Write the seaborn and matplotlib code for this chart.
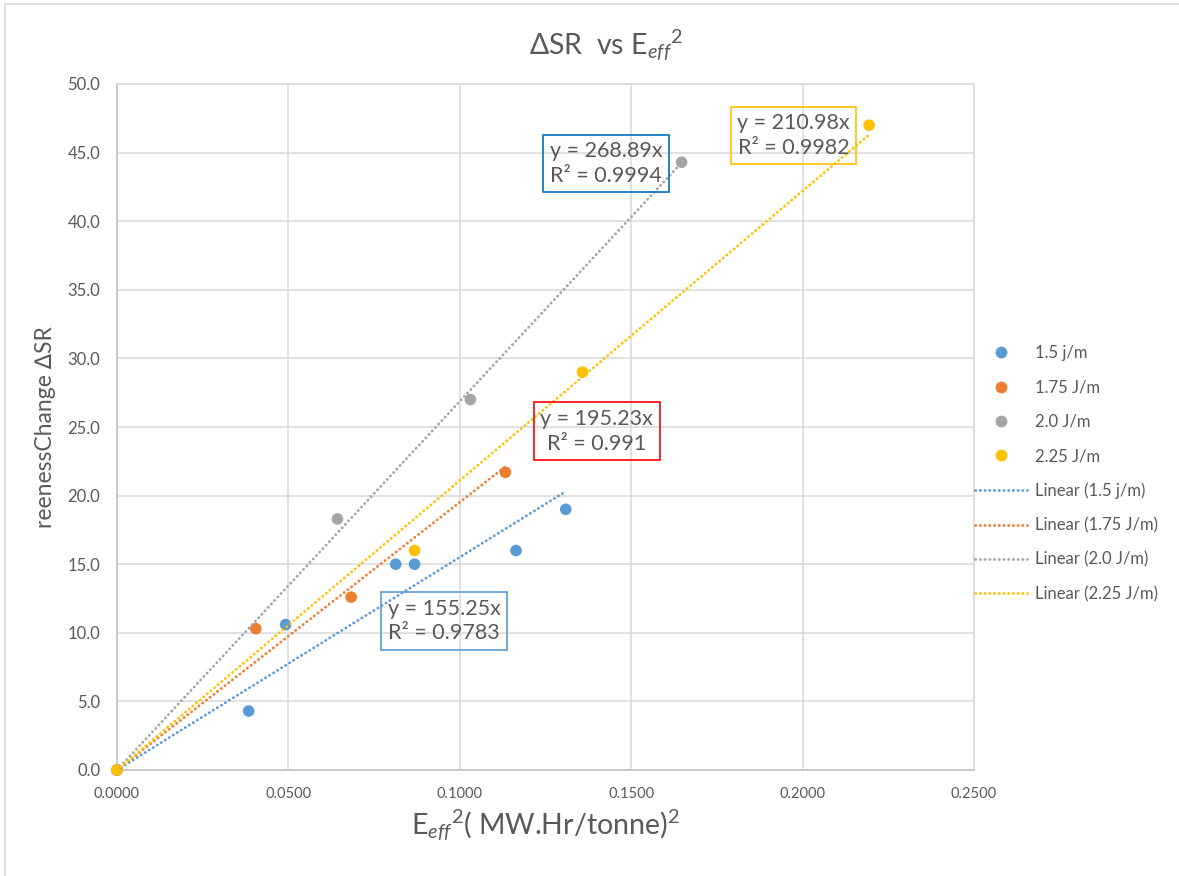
import numpy as np
import pandas as pd
import matplotlib
matplotlib.use("Agg")
import matplotlib.pyplot as plt
from matplotlib.lines import Line2D
import seaborn as sns

# ---- data ----
series_names = ["1.5 j/m", "1.75 J/m", "2.0 J/m", "2.25 J/m"]
blue_x = [0.0, 0.0384, 0.0492, 0.0813, 0.0868, 0.1164, 0.1309]
blue_y = [0.0, 4.3, 10.6, 15.0, 15.0, 16.0, 19.0]
orange_x = [0.0, 0.0405, 0.0683, 0.1133]
orange_y = [0.0, 10.3, 12.6, 21.7]
gray_x = [0.0, 0.0643, 0.1031, 0.1647]
gray_y = [0.0, 18.3, 27.0, 44.3]
yellow_x = [0.0, 0.0868, 0.1358, 0.2194]
yellow_y = [0.0, 16.0, 29.0, 47.0]
eq_texts = ["y = 155.25x\nR\u00b2 = 0.9783", "y = 195.23x\nR\u00b2 = 0.991",
            "y = 268.89x\nR\u00b2 = 0.9994", "y = 210.98x\nR\u00b2 = 0.9982"]
x_ticks = [0.0, 0.05, 0.10, 0.15, 0.20, 0.25]
y_ticks = [0.0, 5.0, 10.0, 15.0, 20.0, 25.0, 30.0, 35.0, 40.0, 45.0, 50.0]

xs = [blue_x, orange_x, gray_x, yellow_x]
ys = [blue_y, orange_y, gray_y, yellow_y]
colors = ["#5B9BD5", "#ED7D31", "#A5A5A5", "#FFC000"]
box_colors = ["#5B9BD5", "#FF0000", "#0070C0", "#FFC000"]
box_pos = [(0.0954, 10.86), (0.1400, 24.7), (0.1427, 44.2), (0.1974, 46.25)]

rows = []
for name, xv, yv in zip(series_names, xs, ys):
    for a, b in zip(xv, yv):
        rows.append({"x": a, "y": b, "series": name})
df = pd.DataFrame(rows)

sns.set_style("white")
plt.rcParams["font.family"] = ["Lato", "DejaVu Sans"]
plt.rcParams["mathtext.fontset"] = "custom"
plt.rcParams["mathtext.rm"] = "Lato"
plt.rcParams["mathtext.it"] = "Lato:italic"

TXT = "#595959"
DOTS = (0, (0.1, 1.6))
fig = plt.figure(figsize=(11.79, 8.76), dpi=100)
ax = fig.add_axes([117 / 1179, 1 - 770 / 876, (974 - 117) / 1179, (770 - 84) / 876])

sns.scatterplot(data=df, x="x", y="y", hue="series", palette=dict(zip(series_names, colors)),
                s=70, linewidth=0, legend=False, ax=ax, zorder=3)
for coll in ax.collections:
    coll.set_clip_on(False)

for xv, yv, c in zip(xs, ys, colors):
    xa = np.array(xv); ya = np.array(yv)
    slope = np.sum(xa * ya) / np.sum(xa * xa)
    xl = np.array([0.0, xa.max()])
    ax.plot(xl, slope * xl, color=c, lw=2.0, linestyle=DOTS,
            dash_capstyle="round", zorder=4)

for (bx, by), t, ec in zip(box_pos, eq_texts, box_colors):
    ax.text(bx, by, t, ha="center", va="center", multialignment="center",
            fontsize=15.5, color=TXT, linespacing=1.3, zorder=5,
            bbox=dict(boxstyle="square,pad=0.3", fc="none", ec=ec, lw=1.2))

ax.set_xlim(0, 0.25)
ax.set_ylim(0, 50)
ax.set_xticks(x_ticks)
ax.set_yticks(y_ticks)
ax.set_xticklabels([f"{v:.4f}" for v in x_ticks], fontsize=10.5, color=TXT)
ax.set_yticklabels([f"{v:.1f}" for v in y_ticks], fontsize=12, color=TXT)
ax.tick_params(axis="x", length=0, pad=12)
ax.tick_params(axis="y", length=0, pad=12)
ax.grid(True, color="#D9D9D9", lw=1.1)
ax.set_axisbelow(True)
for s in ax.spines.values():
    s.set_color("#D9D9D9")
    s.set_linewidth(1.1)
ax.spines["left"].set_color("#BFBFBF")
ax.spines["bottom"].set_color("#BFBFBF")

ax.set_xlabel(r"E$_{\mathit{eff}}$$^{\mathit{2}}$( MW.Hr/tonne)$^{2}$", fontsize=20.5, color=TXT, labelpad=5)
ax.set_ylabel("reenessChange \u2206SR", fontsize=16.5, color=TXT, labelpad=8)

fig.text(606 / 1179, 1 - 45 / 876, r"$\Delta$SR  vs E$_{\mathit{eff}}$$^{\mathit{2}}$",
         ha="center", va="center", fontsize=20.5, color=TXT)

handles = []
labels = []
for name, c in zip(series_names, colors):
    handles.append(Line2D([], [], marker="o", color=c, linestyle="none", markersize=8.5, markeredgewidth=0))
    labels.append(name)
for name, c in zip(series_names, colors):
    handles.append(Line2D([], [], color=c, lw=2.0, linestyle=DOTS, dash_capstyle="round"))
    labels.append(f"Linear ({name})")
fig.legend(handles, labels, loc="upper left", bbox_to_anchor=(975 / 1179, 1 - 345 / 876),
           frameon=False, fontsize=12, labelcolor=TXT, handlelength=3.1, handletextpad=0.48,
           labelspacing=1.1, borderpad=0, borderaxespad=0)

# chart-area border (top and left edges visible)
fig.add_artist(Line2D([5 / 1179, 1], [1 - 4 / 876, 1 - 4 / 876], color="#D9D9D9", lw=1.2))
fig.add_artist(Line2D([5 / 1179, 5 / 1179], [0, 1 - 4 / 876], color="#D9D9D9", lw=1.2))

fig.savefig("out.png", dpi=100)
